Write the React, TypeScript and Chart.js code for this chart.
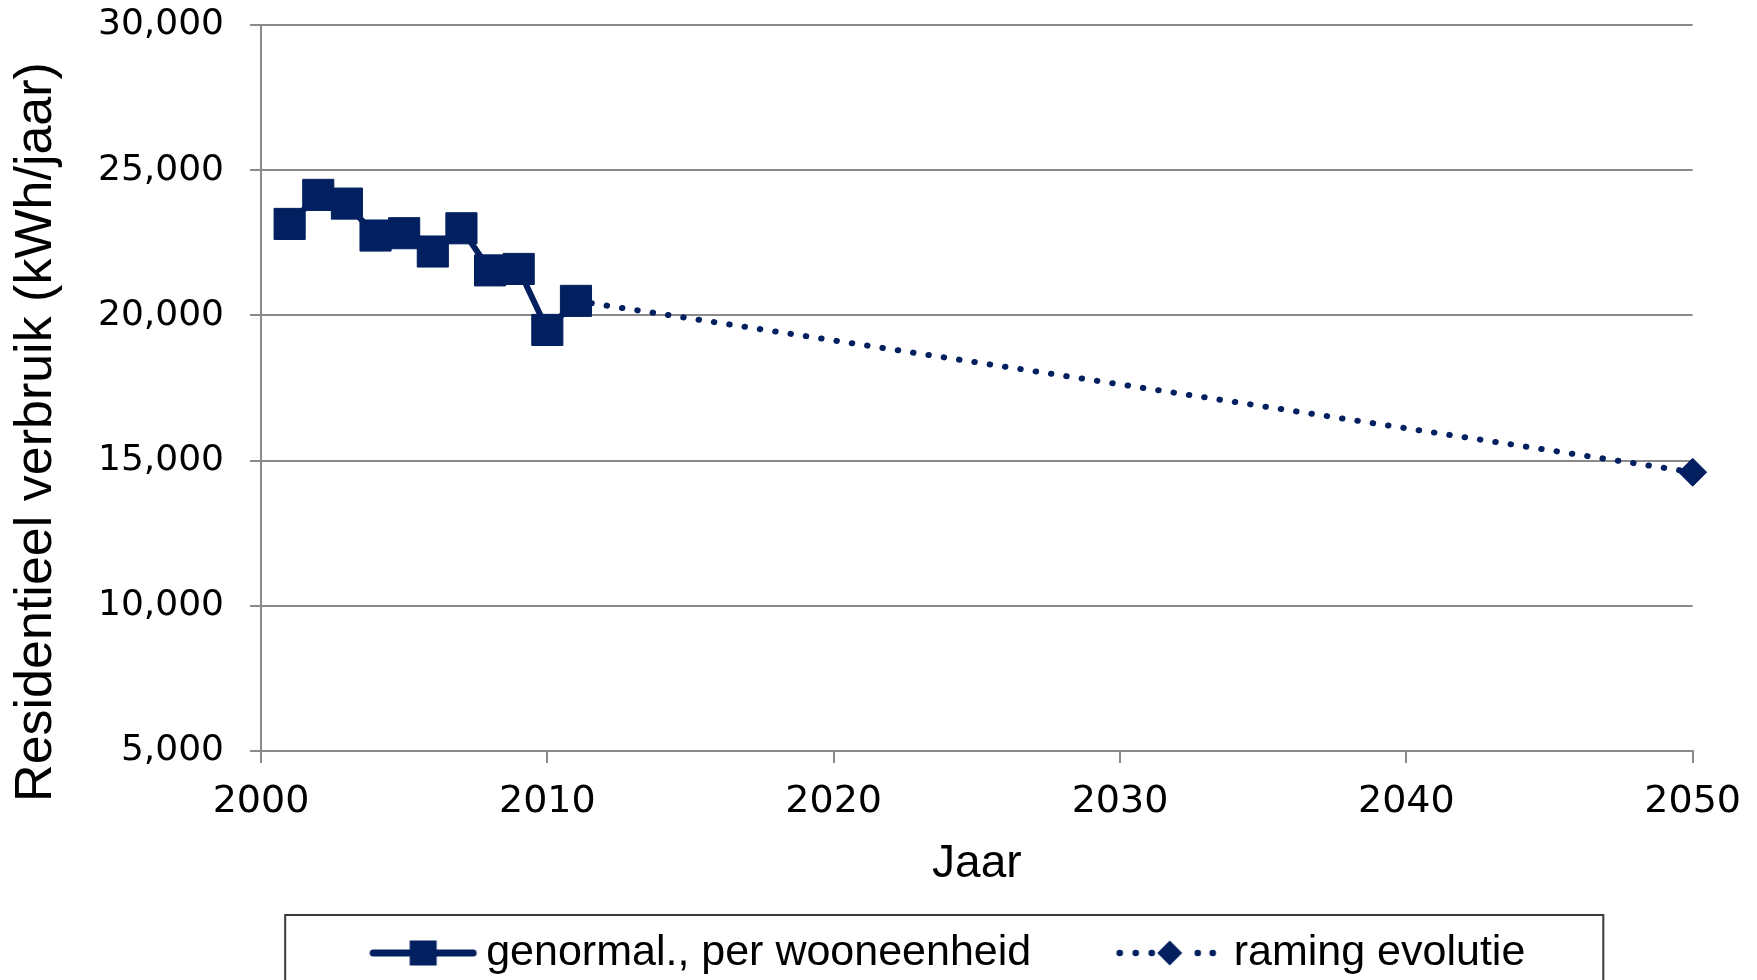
import React, { useEffect, useRef } from 'react';
import { Chart, registerables } from 'chart.js';

Chart.register(...registerables);

// ---- data ----
const histYears = [2001, 2002, 2003, 2004, 2005, 2006, 2007, 2008, 2009, 2010, 2011];
const histValues = [23150, 24150, 23850, 22750, 22830, 22200, 23000, 21550, 21600, 19500, 20500];
const projYears = [2011, 2050];
const projValues = [20500, 14600];
const xTickValues = [2000, 2010, 2020, 2030, 2040, 2050];
const yTickValues = [5000, 10000, 15000, 20000, 25000, 30000];
const seriesNames = ['genormal., per wooneenheid', 'raming evolutie'];
const yTitle = 'Residentieel verbruik (kWh/jaar)';
const xTitle = 'Jaar';

const NAVY = '#022060';
const GRID = '#8a8a8a';

function makeSolidSample(): HTMLCanvasElement {
  const c = document.createElement('canvas');
  c.width = 200;
  c.height = 40;
  const g = c.getContext('2d')!;
  g.strokeStyle = NAVY;
  g.lineWidth = 7;
  g.lineCap = 'round';
  g.beginPath();
  g.moveTo(94, 20);
  g.lineTo(194, 20);
  g.stroke();
  g.fillStyle = NAVY;
  g.fillRect(144 - 13.5, 20 - 12.5, 27, 25);
  return c;
}

function makeDottedSample(): HTMLCanvasElement {
  const c = document.createElement('canvas');
  c.width = 200;
  c.height = 40;
  const g = c.getContext('2d')!;
  g.fillStyle = NAVY;
  [93, 109, 125, 171, 186].forEach((x) => {
    g.beginPath();
    g.arc(x, 20, 3.3, 0, Math.PI * 2);
    g.fill();
  });
  g.beginPath();
  g.moveTo(143, 7.5);
  g.lineTo(155.5, 20);
  g.lineTo(143, 32.5);
  g.lineTo(130.5, 20);
  g.closePath();
  g.fill();
  return c;
}

export default function App() {
  const ref = useRef<HTMLCanvasElement | null>(null);

  useEffect(() => {
    if (!ref.current) return;
    const samples = [makeSolidSample(), makeDottedSample()];

    const legendShift = {
      id: 'legendShift',
      afterLayout(chart: any) {
        const lg = chart.legend;
        if (!lg) return;
        lg.left += 125;
        lg.top += 4.5;
        lg.bottom += 4.5;
      },
    };

    const legendBox = {
      id: 'legendBox',
      afterDraw(chart: any) {
        const lg = chart.legend;
        if (!lg || !lg.legendHitBoxes || !lg.legendHitBoxes.length) return;
        const hb = lg.legendHitBoxes;
        const first = hb[0];
        const last = hb[hb.length - 1];
        const left = first.left - 8.5;
        const right = last.left + last.width + 78;
        const top = lg.top - 6.5;
        const ctx = chart.ctx;
        ctx.save();
        ctx.strokeStyle = '#3a3a3a';
        ctx.lineWidth = 2;
        ctx.strokeRect(left, top, right - left, 120);
        ctx.restore();
      },
    };

    const yTitlePlugin = {
      id: 'yTitlePlugin',
      afterDraw(chart: any) {
        const ctx = chart.ctx;
        ctx.save();
        ctx.translate(37, 432);
        ctx.rotate(-Math.PI / 2);
        ctx.textAlign = 'center';
        ctx.textBaseline = 'middle';
        ctx.fillStyle = '#000';
        ctx.font = '52px "Liberation Sans"';
        ctx.fillText(yTitle, 0, 0);
        ctx.restore();
      },
    };

    const chart = new Chart(ref.current, {
      type: 'line',
      data: {
        datasets: [
          {
            label: seriesNames[0],
            data: histYears.map((x, i) => ({ x, y: histValues[i] })),
            borderColor: NAVY,
            backgroundColor: NAVY,
            borderWidth: 6,
            pointStyle: 'rect',
            pointRadius: 22,
            pointBorderWidth: 1,
            pointBackgroundColor: NAVY,
            pointBorderColor: NAVY,
            tension: 0,
            clip: false,
          },
          {
            label: seriesNames[1],
            data: projYears.map((x, i) => ({ x, y: projValues[i] })),
            borderColor: NAVY,
            backgroundColor: NAVY,
            borderWidth: 6,
            borderDash: [0.5, 15],
            borderCapStyle: 'round',
            pointStyle: 'rectRot',
            pointRadius: [0, 14],
            pointBorderWidth: 1,
            pointBackgroundColor: NAVY,
            pointBorderColor: NAVY,
            tension: 0,
            clip: false,
          },
        ],
      },
      options: {
        responsive: false,
        animation: false,
        devicePixelRatio: 1,
        layout: { padding: { left: 0, right: 63, top: 25, bottom: 0 } },
        scales: {
          x: {
            type: 'linear',
            min: 2000,
            max: 2050,
            afterBuildTicks: (scale: any) => {
              scale.ticks = xTickValues.map((v) => ({ value: v }));
            },
            afterFit: (scale: any) => {
              scale.height = 166;
            },
            grid: {
              drawOnChartArea: false,
              drawTicks: true,
              tickLength: 12,
              color: GRID,
              lineWidth: 2,
            },
            border: { display: true, color: GRID, width: 2 },
            ticks: {
              color: '#000',
              font: { family: '"DejaVu Sans"', size: 38 },
              padding: 16,
              maxRotation: 0,
              autoSkip: false,
              callback: (v: any) => String(v),
            },
            title: {
              display: true,
              text: xTitle,
              color: '#000',
              font: { family: '"Liberation Sans"', size: 46 },
              padding: { top: 0, bottom: 25 },
            },
          },
          y: {
            type: 'linear',
            min: 5000,
            max: 30000,
            afterBuildTicks: (scale: any) => {
              scale.ticks = yTickValues.map((v) => ({ value: v }));
            },
            afterFit: (scale: any) => {
              scale.width = 261;
              scale.paddingTop = 0;
              scale.paddingBottom = 0;
            },
            grid: {
              color: GRID,
              lineWidth: 2,
              drawTicks: true,
              tickLength: 11,
            },
            border: { display: true, color: GRID, width: 2 },
            ticks: {
              color: '#000',
              font: { family: '"DejaVu Sans"', size: 36 },
              padding: 26,
              callback: (v: any) => Number(v).toLocaleString('en-US'),
            },
          },
        },
        plugins: {
          legend: {
            display: true,
            position: 'bottom',
            labels: {
              usePointStyle: true,
              pointStyleWidth: 171,
              padding: 10,
              color: '#000',
              font: { family: '"Liberation Sans"', size: 43 },
              generateLabels: () =>
                seriesNames.map((name, i) => ({
                  text: name,
                  pointStyle: samples[i] as any,
                  fillStyle: NAVY,
                  strokeStyle: NAVY,
                  lineWidth: 0,
                  hidden: false,
                  datasetIndex: i,
                  fontColor: '#000',
                })),
            },
          },
          tooltip: { enabled: false },
        },
      },
      plugins: [legendShift, legendBox, yTitlePlugin],
    } as any);

    return () => chart.destroy();
  }, []);

  return (
    <div style={{ position: 'fixed', left: 0, top: 0, width: 1757, height: 980, background: '#fff' }}>
      <canvas ref={ref} width={1757} height={980} style={{ display: 'block' }} />
    </div>
  );
}
